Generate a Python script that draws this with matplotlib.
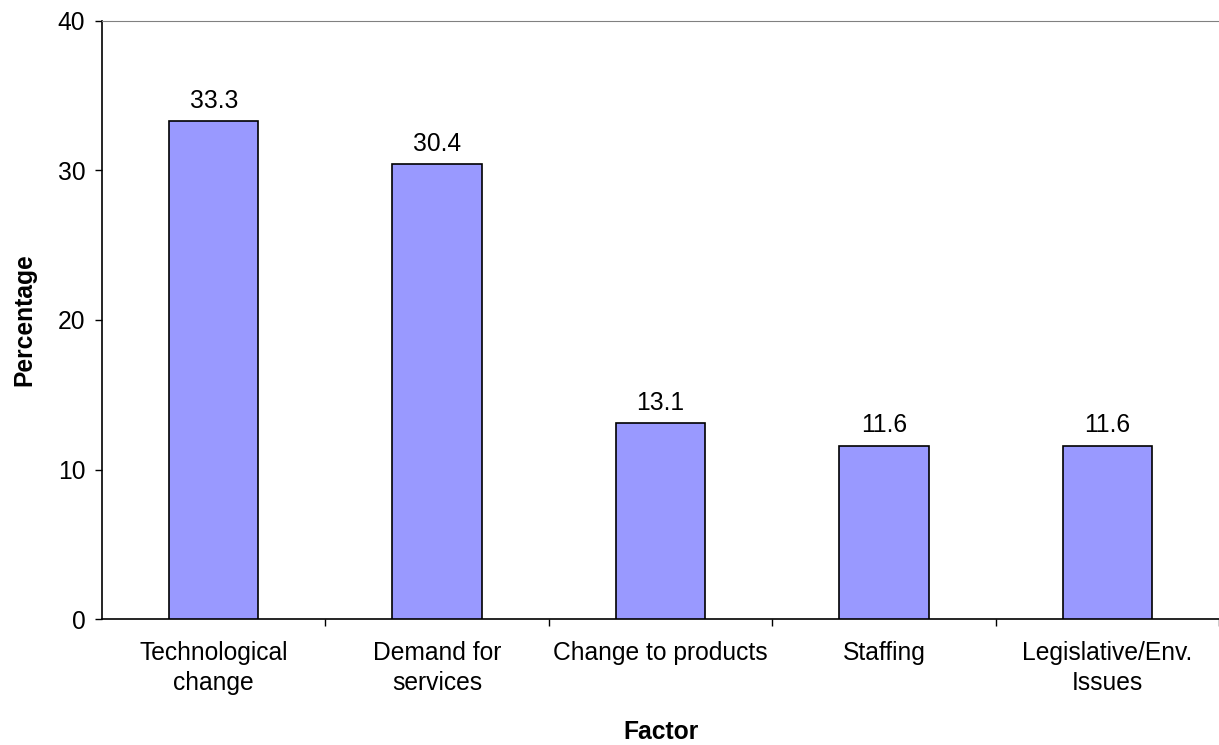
import matplotlib

matplotlib.use("Agg")
import matplotlib.pyplot as plt  # noqa: E402
import numpy as np  # noqa: E402

plt.rcParams["font.family"] = ["Liberation Sans", "DejaVu Sans"]

FACTORS = [
    "Technological\nchange",
    "Demand for\nservices",
    "Change to products",
    "Staffing",
    "Legislative/Env.\nIssues",
]
PERCENTAGES = [33.3, 30.4, 13.1, 11.6, 11.6]
Y_TICKS = [0, 10, 20, 30, 40]

BAR_COLOR = "#9999ff"
FONT_SIZE = 17.7


def main() -> None:
    fig = plt.figure(figsize=(12.19, 7.45), dpi=100)
    ax = fig.add_axes([0.0837, 0.169, 0.9163, 0.803])

    x = np.arange(len(FACTORS))
    bars = ax.bar(x, PERCENTAGES, width=0.4, color=BAR_COLOR,
                  edgecolor="black", linewidth=1.2, zorder=3)
    for bar, val in zip(bars, PERCENTAGES):
        ax.annotate(f"{val:.1f}", (bar.get_x() + bar.get_width() / 2, val),
                    xytext=(0, 6), textcoords="offset points",
                    ha="center", va="bottom", fontsize=FONT_SIZE)

    ax.set_xlim(-0.5, len(FACTORS) - 0.5)
    ax.set_ylim(0, 40)
    ax.set_yticks(Y_TICKS)
    ax.tick_params(axis="y", length=5, width=1, labelsize=FONT_SIZE, pad=7)

    # labels at category centres, tick marks at category boundaries
    ax.set_xticks(x)
    ax.set_xticklabels(FACTORS, fontsize=FONT_SIZE, linespacing=1.32)
    ax.tick_params(axis="x", which="major", length=0, pad=16)
    ax.set_xticks(np.arange(len(FACTORS)) + 0.5, minor=True)
    ax.tick_params(axis="x", which="minor", length=5, width=1)

    ax.spines["right"].set_visible(False)
    ax.spines["top"].set_color("#808080")
    ax.spines["left"].set_linewidth(1.2)
    ax.spines["bottom"].set_linewidth(1.2)

    ax.set_ylabel("Percentage", fontsize=FONT_SIZE, fontweight="bold")
    ax.yaxis.set_label_coords(-0.059, 0.5)
    ax.set_xlabel("Factor", fontsize=FONT_SIZE, fontweight="bold")
    ax.xaxis.set_label_coords(0.5, -0.168)

    fig.savefig("out.png", dpi=100)
    plt.close(fig)


if __name__ == "__main__":
    main()
